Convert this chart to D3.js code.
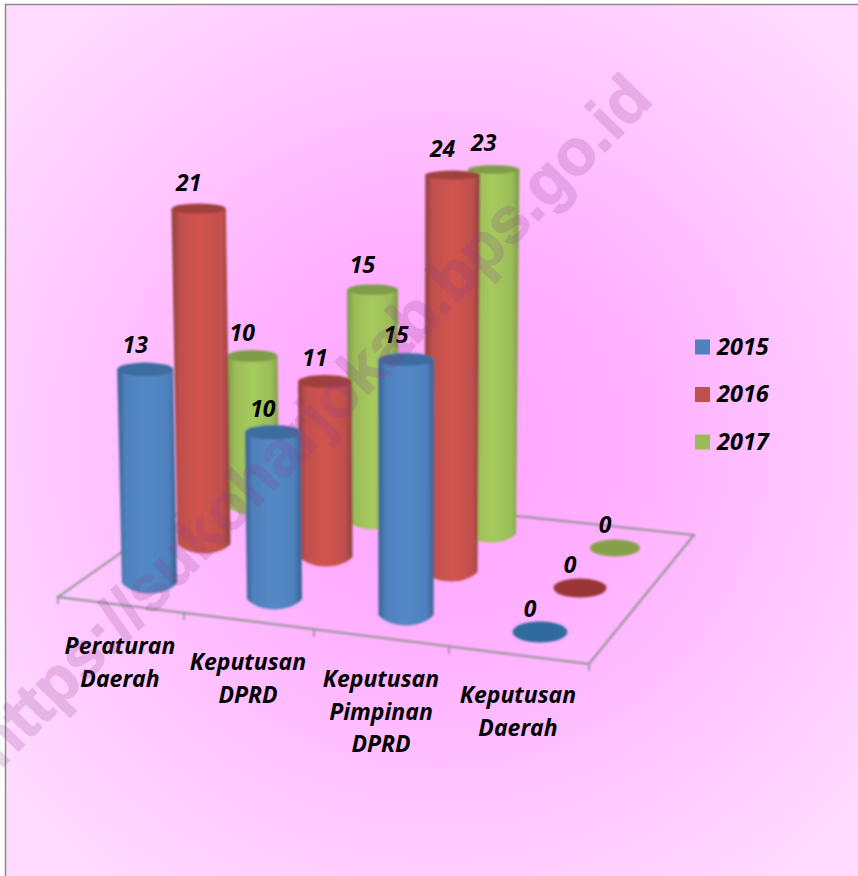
<!DOCTYPE html>
<html><head><meta charset="utf-8">
<style>html,body{margin:0;padding:0;background:#fff}svg{display:block}text{font-family:"Open Sans",sans-serif;font-weight:700;font-style:italic;fill:#000}</style>
<script src="https://cdnjs.cloudflare.com/ajax/libs/d3/7.8.5/d3.min.js"></script>
</head><body><div id="c"></div>
<script>
const categories=[["Peraturan","Daerah"],["Keputusan","DPRD"],["Keputusan","Pimpinan","DPRD"],["Keputusan","Daerah"]];
const seriesNames=["2015","2016","2017"];
const values2015=[13,10,15,0];
const values2016=[21,11,24,0];
const values2017=[10,15,23,0];
const allValues=[values2015,values2016,values2017];
const colors=[
 {base:"#4F81BD",edge:"#35608f",mid:"#5389c8",top:"#3d6c9f",flat:"#2f6a9c"},
 {base:"#C0504D",edge:"#8c3f3c",mid:"#d2534f",top:"#a03f3c",flat:"#993434"},
 {base:"#9BBB59",edge:"#7b9a45",mid:"#a6cb5c",top:"#7f9c4a",flat:"#85a04a"}];

const W=858,H=876;
const svg=d3.select("#c").append("svg").attr("width",W).attr("height",H);
const defs=svg.append("defs");
const bg=defs.append("radialGradient").attr("id","bg").attr("gradientUnits","userSpaceOnUse")
 .attr("cx",0).attr("cy",0).attr("r",1).attr("gradientTransform","translate(440,440) scale(560,560)");
[[0,"#ffa3ff"],[.35,"#ffb0ff"],[.7,"#ffc8ff"],[1,"#ffdcff"]].forEach(d=>bg.append("stop").attr("offset",d[0]).attr("stop-color",d[1]));
colors.forEach((c,i)=>{
 const g=defs.append("linearGradient").attr("id","cyl"+i).attr("x1",0).attr("x2",1).attr("y1",0).attr("y2",0);
 [[0,c.edge],[.14,c.base],[.5,c.mid],[.86,c.base],[1,c.edge]].forEach(d=>g.append("stop").attr("offset",d[0]).attr("stop-color",d[1]));
});
defs.append("filter").attr("id","soft").append("feGaussianBlur").attr("stdDeviation",.8);

svg.append("rect").attr("x",5.5).attr("y",4.5).attr("width",W).attr("height",H).attr("fill","url(#bg)").attr("stroke","#8a8a8a").attr("stroke-width",1.5);

// floor projection
const cats=[0,1,2,3];
const baseX=[d3.scaleLinear().domain(cats).range([149.5,274.5,406,540]),
             d3.scaleLinear().domain(cats).range([204,326,451,580]),
             d3.scaleLinear().domain(cats).range([254,373,491,615])];
const baseY=[d3.scaleLinear().domain(cats).range([583,599,615,632]),
             d3.scaleLinear().domain(cats).range([544,557,572,588]),
             d3.scaleLinear().domain(cats).range([507,521,534,548])];
const radius=d3.scaleOrdinal().domain([0,1,2]).range([27.5,26.5,25]);
const floorRy=d3.scaleOrdinal().domain([0,1,2]).range([10.5,9.5,8.5]);
const unit=d3.scaleLinear().domain([507,615]).range([15.1,16.95]);
const stretch=d3.scaleLinear().domain([12,24]).range([1,1.02]);
const lean=d3.scaleLinear().domain([0,1000]).range([1,1.08]);
const flatten=d3.scaleLinear().domain([0,900]).range([1,0]);
const labelLift=d3.scaleLinear().domain([10,24]).range([15.5,18.5]).clamp(true);
const vpX=400;
const tickX=d3.scaleLinear().domain([0,1,2,3,4]).range([58,184,314,449,589]);
const tickY=d3.scaleLinear().domain([0,1,2,3,4]).range([597,613,630,647,664]);
const labelX=d3.scaleLinear().domain(cats).range([120,248,381,518]);
const labelY=d3.scaleLinear().domain(cats).range([654,670,687,703]);
const legendY=d3.scalePoint().domain(seriesNames).range([347,442]);

// floor
const floor=svg.append("g").attr("stroke","#8f8f8f").attr("fill","none").attr("filter","url(#soft)");
const corners=[[tickX(0),tickY(0)],[tickX(4),tickY(4)],[694,535],[219,484]];
floor.append("path").attr("d",d3.line()(corners)+"Z").attr("stroke-width",2);
floor.selectAll(".t").data([0,1,2,3,4]).join("line").attr("class","t")
 .attr("x1",tickX).attr("x2",tickX).attr("y1",tickY).attr("y2",d=>tickY(d)+7).attr("stroke-width",1.6);

// cylinders, back row first
const marks=[];
[2,1,0].forEach(s=>cats.forEach(i=>{
 const v=allValues[s][i],bx=baseX[s](i),by=baseY[s](i);
 const h=v*unit(by)*(v>12?stretch(v):1),k=lean(h);
 marks.push({s,i,v,bx,by,h,tx:vpX+(bx-vpX)*k,ty:by-h,rb:radius(s),rt:radius(s)*k,
   ryb:floorRy(s),ryt:floorRy(s)*flatten(h)*.85});
}));
const mg=svg.append("g").attr("filter","url(#soft)");
marks.forEach(m=>{
 const c=colors[m.s];
 if(m.v===0){
  mg.append("ellipse").attr("cx",m.bx).attr("cy",m.by).attr("rx",m.rb).attr("ry",m.ryb).attr("fill",c.flat);
  return;
 }
 const p=d3.path();
 p.moveTo(m.tx-m.rt,m.ty);
 p.lineTo(m.bx-m.rb,m.by);
 p.bezierCurveTo(m.bx-m.rb*.55,m.by+m.ryb*1.33,m.bx+m.rb*.55,m.by+m.ryb*1.33,m.bx+m.rb,m.by);
 p.lineTo(m.tx+m.rt,m.ty);
 p.closePath();
 mg.append("path").attr("d",p.toString()).attr("fill",`url(#cyl${m.s})`);
 mg.append("ellipse").attr("cx",m.tx).attr("cy",m.ty).attr("rx",m.rt).attr("ry",m.ryt).attr("fill",c.top);
});

// value labels
svg.append("g").selectAll("text").data(marks).join("text")
 .attr("x",d=>d.tx-10).attr("y",d=>d.ty-labelLift(d.v)).attr("text-anchor","middle").attr("font-size",23).text(d=>d.v);

// category labels
categories.forEach((lines,i)=>{
 const t=svg.append("text").attr("text-anchor","middle").attr("font-size",23);
 lines.forEach((l,j)=>t.append("tspan").attr("x",labelX(i)).attr("y",labelY(i)+j*32.5).text(l));
});

// legend
const lg=svg.append("g").selectAll("g").data(seriesNames).join("g").attr("transform",d=>`translate(0,${legendY(d)})`);
lg.append("rect").attr("x",695).attr("y",-7.5).attr("width",15).attr("height",15).attr("fill",(d,i)=>colors[i].base);
lg.append("text").attr("x",717).attr("y",7.5).attr("font-size",23.5).text(d=>d);

// watermark
svg.append("text").attr("transform","translate(0,770) rotate(-45.6)")
 .attr("font-size",64.3).style("font-family","'Liberation Sans',sans-serif").style("font-style","normal").style("font-weight",700)
 .style("fill","#8a3f8a").style("stroke","#8a3f8a").style("stroke-width",1.5).attr("opacity",.2).text("https://sukoharjokab.bps.go.id");
</script></body></html>
